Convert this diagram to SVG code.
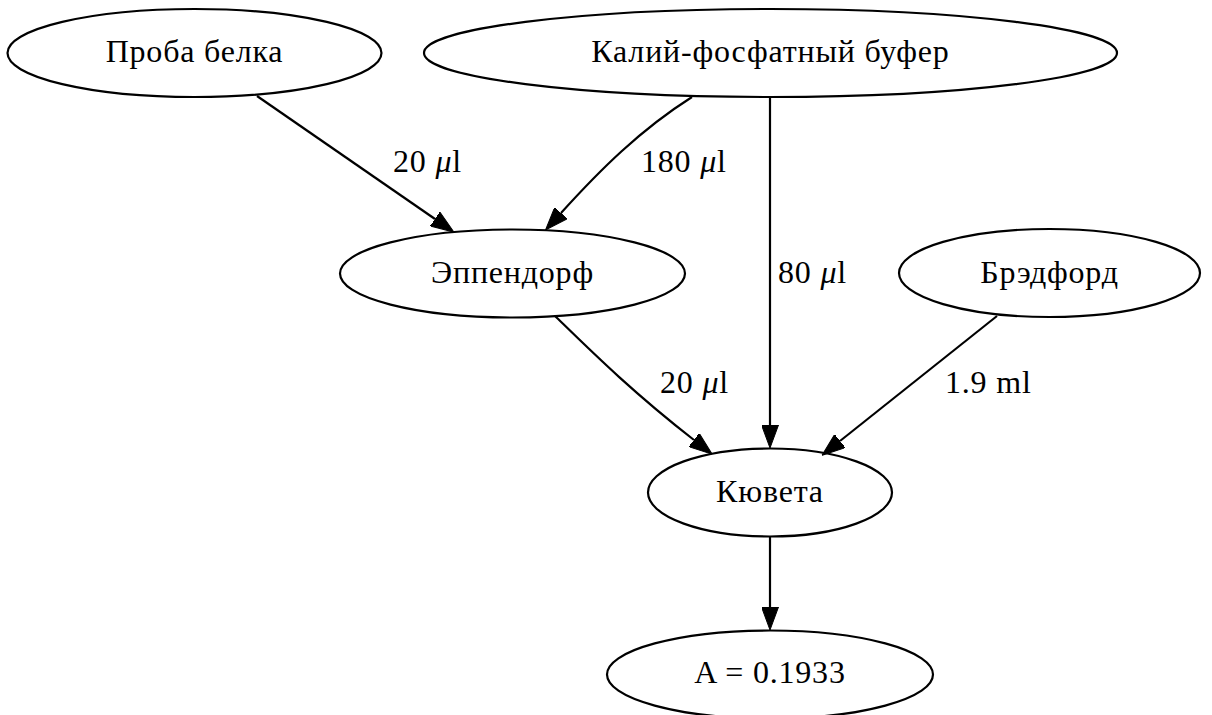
<svg xmlns="http://www.w3.org/2000/svg" width="1212" height="715" viewBox="0 0 1212 715">
<style>
.node ellipse{fill:none;stroke:#000;stroke-width:2.2}
text{font-family:"Liberation Serif","DejaVu Serif",serif;font-size:32px;letter-spacing:0.8px;fill:#000}
.node text{text-anchor:middle}
.edges path{fill:none;stroke:#000;stroke-width:2.2;marker-end:url(#arr)}
</style>
<defs>
<marker id="arr" markerUnits="userSpaceOnUse" viewBox="0 0 23 17" refX="0" refY="8.5" markerWidth="23" markerHeight="17" orient="auto">
<path d="M0,0 L23,8.5 L0,17 z" fill="#000" stroke="#000" stroke-width="1"/>
</marker>
</defs>
<rect width="1212" height="715" fill="#fff"/>
<g class="edges" id="edges">
<path d="M257,96 L435,219"/>
<path d="M692,97 C640,130 600,170 561,213"/>
<path d="M770,97 L770,425"/>
<path d="M555,316 C590,350 630,390 694,440"/>
<path d="M997,316 L840,441"/>
<path d="M770,537 L770,607"/>
</g>
<g id="edge-labels">
<text x="393" y="172">20 <tspan font-style="italic">μ</tspan>l</text>
<text x="641" y="172">180 <tspan font-style="italic">μ</tspan>l</text>
<text x="778" y="283">80 <tspan font-style="italic">μ</tspan>l</text>
<text x="660" y="393">20 <tspan font-style="italic">μ</tspan>l</text>
<text x="945" y="393">1.9 ml</text>
</g>
<g class="node" id="n-proba"><ellipse cx="194.5" cy="53" rx="187" ry="44"/><text x="194.5" y="62">Проба белка</text></g>
<g class="node" id="n-buffer"><ellipse cx="770.5" cy="53" rx="346.5" ry="44"/><text x="770.5" y="62">Калий-фосфатный буфер</text></g>
<g class="node" id="n-eppendorf"><ellipse cx="512.5" cy="273.5" rx="172.5" ry="44"/><text x="512.5" y="283">Эппендорф</text></g>
<g class="node" id="n-bradford"><ellipse cx="1049.5" cy="273" rx="150.5" ry="44"/><text x="1049.5" y="283">Брэдфорд</text></g>
<g class="node" id="n-cuvette"><ellipse cx="770" cy="492.5" rx="122" ry="44"/><text x="770" y="502">Кювета</text></g>
<g class="node" id="n-result"><ellipse cx="770" cy="674.5" rx="163" ry="44"/><text x="770" y="683">A = 0.1933</text></g>
</svg>
